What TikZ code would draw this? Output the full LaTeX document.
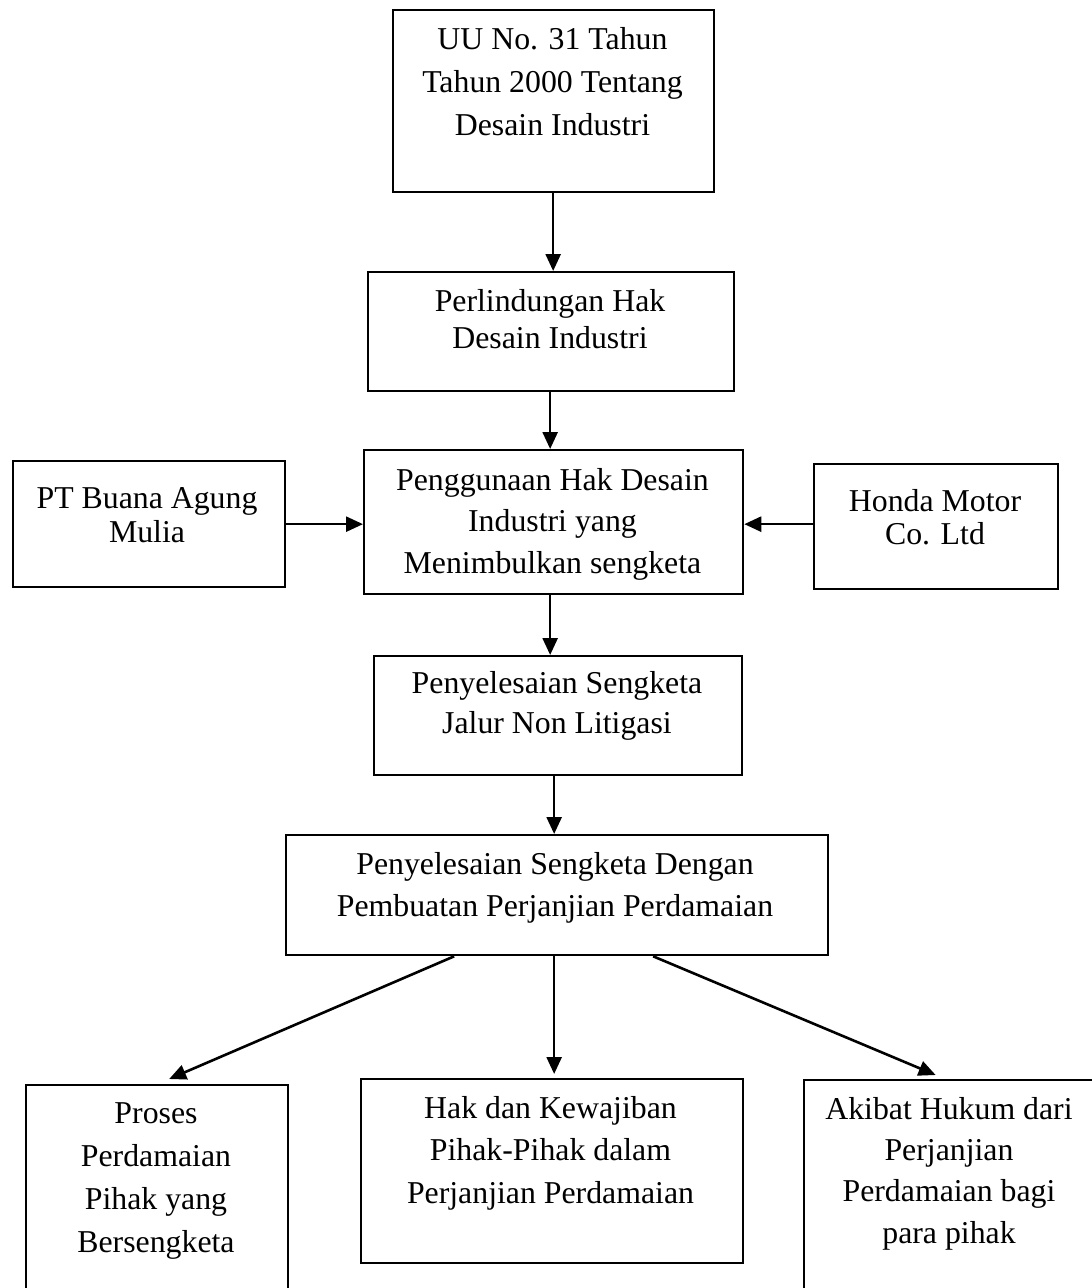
\documentclass[tikz,border=0pt]{standalone}
\usepackage{fontspec}
\setmainfont{Liberation Serif}
\usetikzlibrary{arrows.meta,calc}
\tikzset{
  box/.style={draw, line width=2.3pt, inner sep=0pt, anchor=north west},
  txt/.style={align=center, inner sep=0pt, anchor=base},
  arr/.style={line width=2.6pt, -{Triangle[length=17pt,width=15pt]}}
}
\newcommand{\fs}[1]{\fontsize{31.8}{#1}\selectfont}
\begin{document}
\begin{tikzpicture}[x=1pt,y=-1pt]
\useasboundingbox (0,0) rectangle (1092,1288);
\clip (0,0) rectangle (1092,1288);
% boxes
\node[box, minimum width=321pt, minimum height=182pt] (b1) at (392,9) {};
\node[box, minimum width=366pt, minimum height=119pt] (b2) at (367,271) {};
\node[box, minimum width=379pt, minimum height=144pt] (b3) at (363,449) {};
\node[box, minimum width=272pt, minimum height=126pt] (bl) at (12,460) {};
\node[box, minimum width=244pt, minimum height=125pt] (br) at (813,463) {};
\node[box, minimum width=368pt, minimum height=119pt] (b4) at (373,655) {};
\node[box, minimum width=542pt, minimum height=120pt] (b5) at (285,834) {};
\node[box, minimum width=262pt, minimum height=230pt] (b6) at (25,1084) {};
\node[box, minimum width=382pt, minimum height=184pt] (b7) at (360,1078) {};
\node[box, minimum width=300pt, minimum height=230pt] (b8) at (803,1079) {};
% texts (anchored at the baseline of the last line)
\node[txt, font=\fs{43}] (t1) at (552.5,135) {UU No. 31 Tahun\\Tahun 2000 Tentang\\Desain Industri};
\node[txt, font=\fs{37}] (t2) at (550,348) {Perlindungan Hak\\Desain Industri};
\node[txt, font=\fs{41.5}] (t3) at (552.5,573) {Penggunaan Hak Desain\\Industri yang\\Menimbulkan sengketa};
\node[txt, font=\fs{34}] (tl) at (147,542) {PT Buana Agung\\Mulia};
\node[txt, font=\fs{33}] (tr) at (935,544) {Honda Motor\\Co. Ltd};
\node[txt, font=\fs{40}] (t4) at (557,733) {Penyelesaian Sengketa\\Jalur Non Litigasi};
\node[txt, font=\fs{42}] (t5) at (555,916) {Penyelesaian Sengketa Dengan\\Pembuatan Perjanjian Perdamaian};
\node[txt, font=\fs{42.7}] (t6) at (156,1252) {Proses\\Perdamaian\\Pihak yang\\Bersengketa};
\node[txt, font=\fs{42.5}] (t7) at (550.5,1203) {Hak dan Kewajiban\\Pihak-Pihak dalam\\Perjanjian Perdamaian};
\node[txt, font=\fs{41.3}] (t8) at (949,1243) {Akibat Hukum dari\\Perjanjian\\Perdamaian bagi\\para pihak};
% connectors
\draw[arr] ([xshift=-0.5pt]b1.south) -- ([xshift=-0.5pt]b1.south |- b2.north);
\draw[arr] ([xshift=-1pt]b2.south) -- ([xshift=-1pt]b2.south |- b3.north);
\draw[arr] ([xshift=-3.5pt]b3.south) -- ([xshift=-3.5pt]b3.south |- b4.north);
\draw[arr] ([xshift=-4pt]b4.south) -- ([xshift=-4pt]b4.south |- b5.north);
\draw[arr] (bl.east) -- (bl.east -| b3.west);
\draw[arr] (br.west |- bl.east) -- (b3.east |- bl.east);
\draw[arr] ([xshift=-103pt]b5.south) -- ([xshift=12pt,yshift=5pt]b6.north);
\draw[arr, shorten >=4pt] ([xshift=-3pt]b5.south) -- ([xshift=-3pt]b5.south |- b7.north);
\draw[arr] ([xshift=96pt]b5.south) -- ([xshift=-18.5pt,yshift=4pt]b8.north);
\end{tikzpicture}
\end{document}
